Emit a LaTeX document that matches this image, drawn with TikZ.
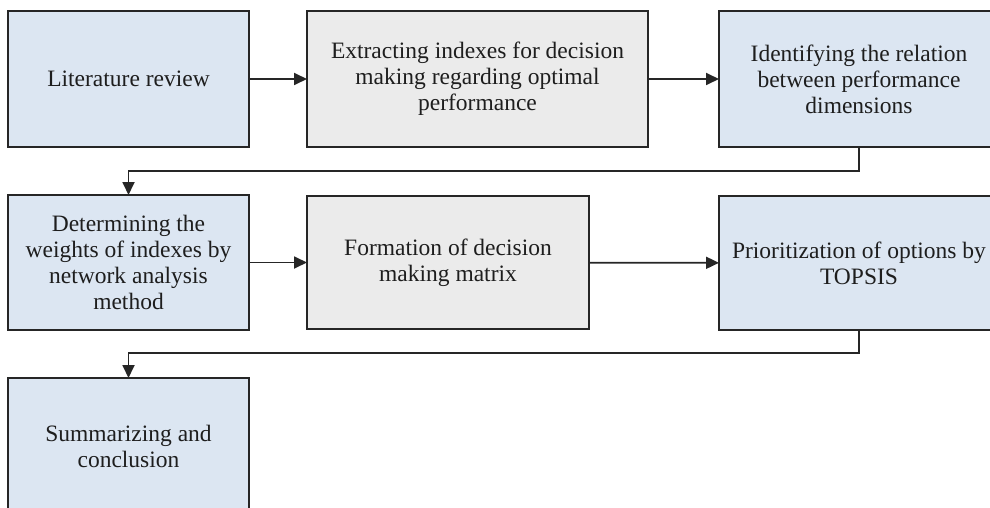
\documentclass[tikz,border=0pt]{standalone}
\usepackage{fontspec}
\setmainfont{Liberation Serif}
\usetikzlibrary{arrows.meta}
\definecolor{boxblue}{HTML}{DCE6F2}
\definecolor{boxgray}{HTML}{EBEBEB}
\definecolor{edge}{HTML}{262626}
\definecolor{txt}{HTML}{1E1E1E}
\tikzset{
  stepbox/.style={draw=edge, line width=2pt, inner sep=0pt, outer sep=0pt,
    align=center, text=txt, font=\fontsize{23.5}{26}\selectfont},
  bluebox/.style={stepbox, fill=boxblue},
  graybox/.style={stepbox, fill=boxgray},
  conn/.style={draw=edge, line width=1.8pt, -{Triangle[length=13pt,width=12pt]}}
}
\begin{document}
\begin{tikzpicture}[x=1pt,y=-1pt]
\useasboundingbox (0,0) rectangle (990,508);
\clip (0,0) rectangle (990,508);
\node[bluebox, minimum width=241pt, minimum height=136pt] (b1) at (128.5,79) {Literature review};
\node[graybox, minimum width=341pt, minimum height=136pt] (b2) at (477.5,79) {Extracting indexes for decision\\making regarding optimal\\performance};
\node[bluebox, minimum width=280pt, minimum height=136pt] (b3) at (859,79) {Identifying the relation\\between performance\\dimensions};
\node[bluebox, minimum width=241pt, minimum height=135pt] (b4) at (128.5,262.5) {Determining the\\weights of indexes by\\network analysis\\method};
\node[graybox, minimum width=282pt, minimum height=133pt] (b5) at (448,262.5) {Formation of decision\\making matrix};
\node[bluebox, minimum width=280pt, minimum height=134pt] (b6) at (859,263) {Prioritization of options by\\TOPSIS};
\node[bluebox, minimum width=241pt, minimum height=136pt] (b7) at (128.5,446) {Summarizing and\\conclusion};
\coordinate (t1) at ([yshift=-24pt]b3.south);
\coordinate (t2) at ([yshift=-23pt]b6.south);
\draw[conn] (b1) -- (b2);
\draw[conn] (b2) -- (b3);
\draw[conn] (b4) -- (b5);
\draw[conn] (b5) -- (b6);
\draw[conn] (b3.south) -- (t1) -| (b4.north);
\draw[conn] (b6.south) -- (t2) -| (b7.north);
\end{tikzpicture}
\end{document}
